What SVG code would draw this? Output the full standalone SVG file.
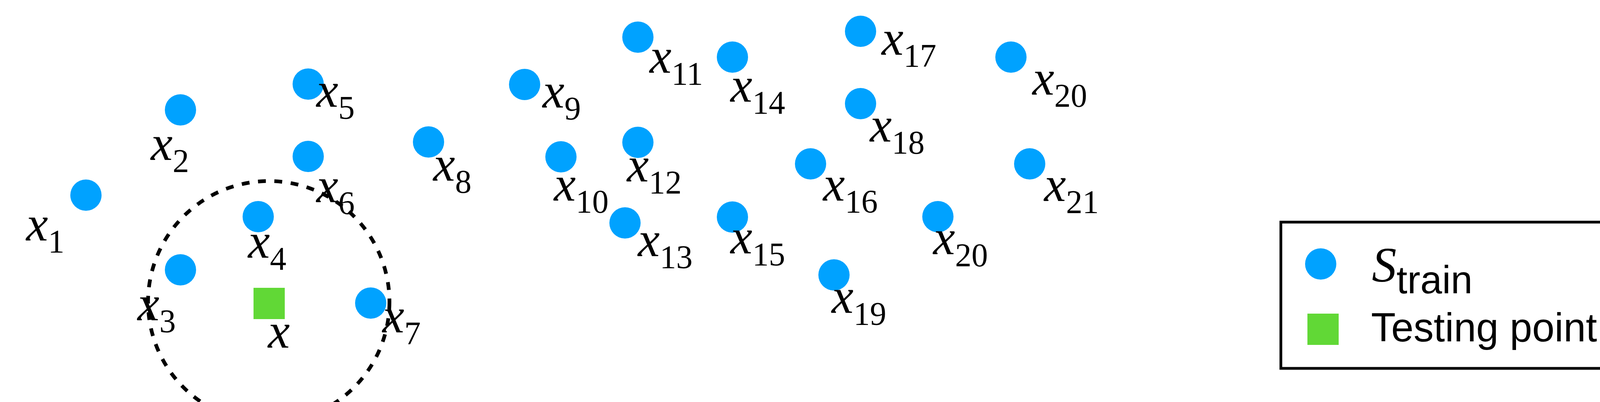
<svg xmlns="http://www.w3.org/2000/svg" width="4184" height="1028" viewBox="0 0 4184 1028">
<style>
.pt{fill:#00A2FF}
.test{fill:#61D836}
.lbl{font-family:"Liberation Serif","Times New Roman",serif;font-style:italic;font-size:126px;fill:#000}
.sub{font-style:normal;font-size:84px}
.sans{font-family:"Liberation Sans",Arial,sans-serif;fill:#000}
.ring{fill:none;stroke:#000;stroke-width:9.5;stroke-dasharray:20 22}
</style>
<rect width="4184" height="1028" fill="#fff"/>
<g id="neighborhood"><circle class="ring" cx="688" cy="772" r="309"/></g>
<g id="n1"><circle class="pt" cx="220" cy="499" r="40"/><text class="lbl" x="67" y="615">x<tspan class="sub" dy="31">1</tspan></text></g>
<g id="n2"><circle class="pt" cx="462" cy="281" r="40"/><text class="lbl" x="386" y="409">x<tspan class="sub" dy="31">2</tspan></text></g>
<g id="n3"><circle class="pt" cx="462" cy="690" r="40"/><text class="lbl" x="352" y="819">x<tspan class="sub" dy="31">3</tspan></text></g>
<g id="n4"><circle class="pt" cx="661" cy="554" r="40"/><text class="lbl" x="635" y="659">x<tspan class="sub" dy="31">4</tspan></text></g>
<g id="n5"><circle class="pt" cx="789" cy="215" r="40"/><text class="lbl" x="810" y="273">x<tspan class="sub" dy="31">5</tspan></text></g>
<g id="n6"><circle class="pt" cx="789" cy="400" r="40"/><text class="lbl" x="810" y="517">x<tspan class="sub" dy="31">6</tspan></text></g>
<g id="n7"><circle class="pt" cx="949" cy="775" r="40"/><text class="lbl" x="979" y="850">x<tspan class="sub" dy="31">7</tspan></text></g>
<g id="n8"><circle class="pt" cx="1097" cy="363" r="40"/><text class="lbl" x="1109" y="462">x<tspan class="sub" dy="31">8</tspan></text></g>
<g id="n9"><circle class="pt" cx="1343" cy="216" r="40"/><text class="lbl" x="1389" y="275">x<tspan class="sub" dy="31">9</tspan></text></g>
<g id="n10"><circle class="pt" cx="1436" cy="401" r="40"/><text class="lbl" x="1418" y="513">x<tspan class="sub" dy="31">10</tspan></text></g>
<g id="n11"><circle class="pt" cx="1633" cy="95" r="40"/><text class="lbl" x="1663" y="186">x<tspan class="sub" dy="31">11</tspan></text></g>
<g id="n12"><circle class="pt" cx="1633" cy="364" r="40"/><text class="lbl" x="1605" y="464">x<tspan class="sub" dy="31">12</tspan></text></g>
<g id="n13"><circle class="pt" cx="1600" cy="570" r="40"/><text class="lbl" x="1633" y="655">x<tspan class="sub" dy="31">13</tspan></text></g>
<g id="n14"><circle class="pt" cx="1875" cy="146" r="40"/><text class="lbl" x="1870" y="260">x<tspan class="sub" dy="31">14</tspan></text></g>
<g id="n15"><circle class="pt" cx="1875" cy="555" r="40"/><text class="lbl" x="1870" y="648">x<tspan class="sub" dy="31">15</tspan></text></g>
<g id="n16"><circle class="pt" cx="2075" cy="419" r="40"/><text class="lbl" x="2107" y="513">x<tspan class="sub" dy="31">16</tspan></text></g>
<g id="n17"><circle class="pt" cx="2203" cy="80" r="40"/><text class="lbl" x="2257" y="140">x<tspan class="sub" dy="31">17</tspan></text></g>
<g id="n18"><circle class="pt" cx="2203" cy="265" r="40"/><text class="lbl" x="2227" y="362">x<tspan class="sub" dy="31">18</tspan></text></g>
<g id="n19"><circle class="pt" cx="2135" cy="703" r="40"/><text class="lbl" x="2129" y="800">x<tspan class="sub" dy="31">19</tspan></text></g>
<g id="n20a"><circle class="pt" cx="2588" cy="146" r="40"/><text class="lbl" x="2643" y="242">x<tspan class="sub" dy="31">20</tspan></text></g>
<g id="n21"><circle class="pt" cx="2636" cy="419" r="40"/><text class="lbl" x="2673" y="514">x<tspan class="sub" dy="31">21</tspan></text></g>
<g id="n20b"><circle class="pt" cx="2401" cy="554" r="40"/><text class="lbl" x="2389" y="650">x<tspan class="sub" dy="31">20</tspan></text></g>
<g id="testpoint"><rect class="test" x="649" y="736" width="80" height="80"/><text class="lbl" x="686" y="889">x</text></g>
<g id="legend">
<rect x="3279" y="568" width="870" height="374" fill="#fff" stroke="#000" stroke-width="7"/>
<circle class="pt" cx="3381" cy="675" r="40"/>
<text class="lbl" x="3512" y="720">S<tspan class="sans" style="font-style:normal;font-size:100px" dy="30">train</tspan></text>
<rect class="test" x="3347" y="802" width="80" height="80"/>
<text class="sans" x="3510" y="873" font-size="103">Testing point</text>
</g>
</svg>
